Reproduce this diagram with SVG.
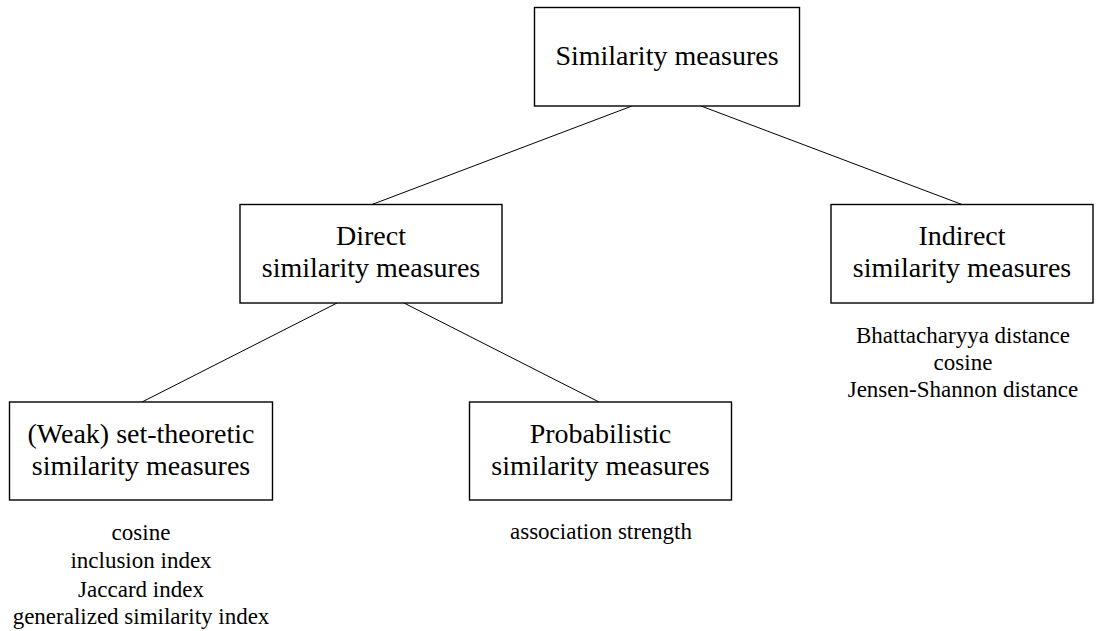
<svg xmlns="http://www.w3.org/2000/svg" width="1096" height="631" viewBox="0 0 1096 631">
<style>
.box{fill:#fff;stroke:#000;stroke-width:1.4}
.edge{stroke:#000;stroke-width:1;fill:none}
.t{font-family:"Liberation Serif","Times New Roman",serif;font-size:28px;text-anchor:middle;fill:#000}
.s{font-family:"Liberation Serif","Times New Roman",serif;font-size:23px;text-anchor:middle;fill:#000}
</style>
<rect width="1096" height="631" fill="#fff"/>
<g id="connectors">
<line class="edge" x1="632" y1="106" x2="372" y2="204.5"/>
<line class="edge" x1="701" y1="106" x2="962" y2="204.5"/>
<line class="edge" x1="337" y1="303" x2="142" y2="402"/>
<line class="edge" x1="404" y1="303" x2="599" y2="402"/>
</g>
<g id="root">
<rect class="box" x="534.5" y="7.5" width="265" height="98.5"/>
<text class="t" x="667" y="65">Similarity measures</text>
</g>
<g id="direct">
<rect class="box" x="240" y="204.5" width="262" height="98.5"/>
<text class="t" x="371" y="245">Direct</text>
<text class="t" x="371" y="277">similarity measures</text>
</g>
<g id="indirect">
<rect class="box" x="831" y="204.5" width="262" height="98.5"/>
<text class="t" x="962" y="245">Indirect</text>
<text class="t" x="962" y="277">similarity measures</text>
<text class="s" x="963" y="342.5">Bhattacharyya distance</text>
<text class="s" x="963" y="370">cosine</text>
<text class="s" x="963" y="396.5">Jensen-Shannon distance</text>
</g>
<g id="weak">
<rect class="box" x="9.5" y="402" width="263" height="98"/>
<text class="t" x="141" y="443">(Weak) set-theoretic</text>
<text class="t" x="141" y="475">similarity measures</text>
<text class="s" x="141" y="540">cosine</text>
<text class="s" x="141" y="568">inclusion index</text>
<text class="s" x="141" y="596.5">Jaccard index</text>
<text class="s" x="141" y="624.3">generalized similarity index</text>
</g>
<g id="probabilistic">
<rect class="box" x="469.5" y="402" width="262" height="98"/>
<text class="t" x="600.5" y="443">Probabilistic</text>
<text class="t" x="600.5" y="475">similarity measures</text>
<text class="s" x="601" y="539.3">association strength</text>
</g>
</svg>
